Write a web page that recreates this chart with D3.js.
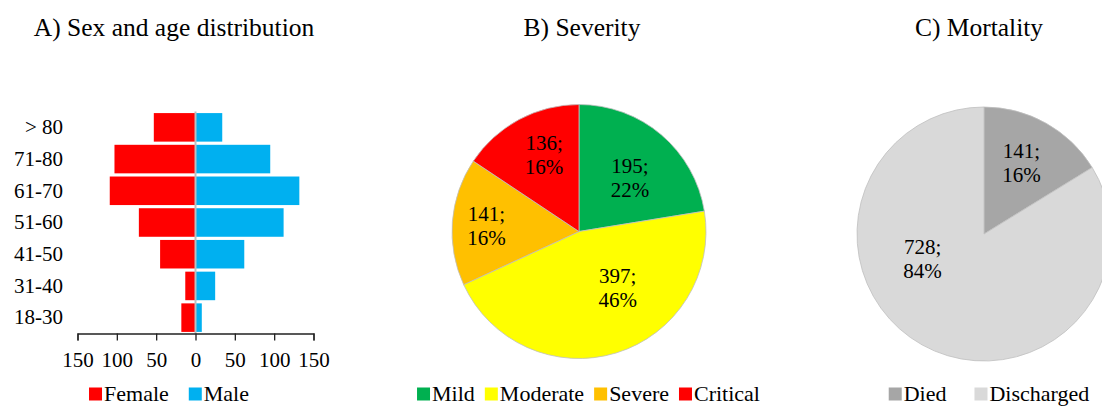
<!DOCTYPE html>
<html lang="en">
<head>
<meta charset="UTF-8" />
<script src="https://cdn.jsdelivr.net/npm/d3@7"></script>
<style>
  body { margin: 0; background: #fff; }
  svg text { font-family: "Liberation Serif", "Times New Roman", serif; fill: #000; }
</style>
<title>Sex, age, severity and mortality</title>
</head>
<body>
<script>
// A) age groups, listed top to bottom
var ageGroups = ["> 80", "71-80", "61-70", "51-60", "41-50", "31-40", "18-30"];
var female = [53, 103, 109, 72, 45, 13, 18];
var male = [34, 95, 132, 112, 62, 25, 8];
var xTicks = [-150, -100, -50, 0, 50, 100, 150];

// B) severity
var severityLabels = ["Mild", "Moderate", "Severe", "Critical"];
var severityCounts = [195, 397, 141, 136];
var severityColors = ["#00b050", "#ffff00", "#ffc000", "#ff0000"];

// C) mortality
var mortalityLabels = ["Died", "Discharged"];
var mortalityCounts = [141, 728];
var mortalityColors = ["#a6a6a6", "#d9d9d9"];

var W = 1102, H = 406;
var svg = d3.select("body").append("svg")
    .attr("width", W)
    .attr("height", H);

// titles
var titles = [["A) Sex and age distribution", 174], ["B) Severity", 582], ["C) Mortality", 979]];
svg.selectAll(".title")
   .data(titles)
   .enter().append("text")
   .attr("class", "title")
   .attr("x", function(d) { return d[1]; })
   .attr("y", 36)
   .attr("text-anchor", "middle")
   .style("font-size", "25.5px")
   .text(function(d) { return d[0]; });

// ---------- A) population pyramid ----------
var xScale = d3.scaleLinear()
    .domain([-150, 150])
    .range([77.5, 313.5]);

var yScale = d3.scaleBand()
    .domain(ageGroups)
    .range([111.5, 333.5])
    .paddingInner(0.1)
    .paddingOuter(0.05);

var rows = ageGroups.map(function(g, i) { return {group: g, f: female[i], m: male[i]}; });

svg.selectAll(".fbar")
   .data(rows)
   .enter().append("rect")
   .attr("class", "fbar")
   .attr("x", function(d) { return xScale(-d.f); })
   .attr("y", function(d) { return yScale(d.group); })
   .attr("width", function(d) { return xScale(0) - xScale(-d.f); })
   .attr("height", yScale.bandwidth())
   .attr("fill", "#ff0000");

svg.selectAll(".mbar")
   .data(rows)
   .enter().append("rect")
   .attr("class", "mbar")
   .attr("x", xScale(0))
   .attr("y", function(d) { return yScale(d.group); })
   .attr("width", function(d) { return xScale(d.m) - xScale(0); })
   .attr("height", yScale.bandwidth())
   .attr("fill", "#00b0f0");

// zero line
svg.append("line")
   .attr("x1", xScale(0)).attr("x2", xScale(0))
   .attr("y1", 111.5).attr("y2", 333.5)
   .attr("stroke", "#bfbfbf")
   .attr("stroke-width", 2);

// x axis
var xAxis = svg.append("g")
   .attr("transform", "translate(0,333.5)")
   .call(d3.axisBottom(xScale)
       .tickValues(xTicks)
       .tickSize(7)
       .tickPadding(12)
       .tickFormat(function(d) { return Math.abs(d); }));
xAxis.selectAll("path, line").attr("stroke", "#222").attr("stroke-width", 1.3);
xAxis.selectAll("text").style("font-size", "21px");

// age labels
var yAxis = svg.append("g")
   .attr("transform", "translate(66,0)")
   .call(d3.axisLeft(yScale).tickSize(0).tickPadding(3));
yAxis.select(".domain").remove();
yAxis.selectAll("text").style("font-size", "21px");

// ---------- pies ----------
var pie = d3.pie().sort(null).value(function(d) { return d.value; });

function drawPie(cx, cy, r, labels, counts, colors, labelT, labelR) {
    var total = d3.sum(counts);
    var data = labels.map(function(l, i) { return {name: l, value: counts[i]}; });
    var arcs = pie(data);
    var arc = d3.arc().innerRadius(0).outerRadius(r);

    var g = svg.append("g").attr("transform", "translate(" + cx + "," + cy + ")");
    g.selectAll("path")
     .data(arcs)
     .enter().append("path")
     .attr("d", arc)
     .attr("fill", function(d, i) { return colors[i]; })
     .attr("stroke", "#bfbfbf")
     .attr("stroke-width", 0.8);

    // value labels, placed inside each slice
    var lab = g.selectAll(".plab")
     .data(arcs)
     .enter().append("text")
     .attr("class", "plab")
     .attr("text-anchor", "middle")
     .style("font-size", "21px")
     .attr("transform", function(d, i) {
         var a = d.startAngle + labelT[i] * (d.endAngle - d.startAngle);
         var rr = labelR[i] * r;
         return "translate(" + (rr * Math.sin(a)) + "," + (-rr * Math.cos(a)) + ")";
     });
    lab.append("tspan").attr("x", 0).attr("y", -4)
       .text(function(d) { return d.data.value + ";"; });
    lab.append("tspan").attr("x", 0).attr("y", 20)
       .text(function(d) { return Math.round(d.data.value / total * 100) + "%"; });
}

function drawLegend(items, colors, cx, y, gap) {
    var g = svg.append("g");
    var x = 0;
    items.forEach(function(name, i) {
        g.append("rect")
         .attr("x", x).attr("y", y - 13)
         .attr("width", 13).attr("height", 13)
         .attr("fill", colors[i]);
        var t = g.append("text")
         .attr("x", x + 15).attr("y", y)
         .style("font-size", "22px")
         .text(name);
        x += 15 + t.node().getComputedTextLength() + gap;
    });
    var width = x - gap;
    g.attr("transform", "translate(" + (cx - width / 2) + ",0)");
}

drawPie(579, 231.5, 127, severityLabels, severityCounts, severityColors,
        [0.53, 0.39, 0.49, 0.57], [0.59, 0.53, 0.73, 0.67]);
drawPie(984, 234, 127, mortalityLabels, mortalityCounts, mortalityColors,
        [0.47, 0.63], [0.64, 0.52]);

drawLegend(["Female", "Male"], ["#ff0000", "#00b0f0"], 169, 400.5, 20);
drawLegend(severityLabels, severityColors, 588.5, 400.5, 10);
drawLegend(mortalityLabels, mortalityColors, 989, 400.5, 28);
</script>
</body>
</html>
